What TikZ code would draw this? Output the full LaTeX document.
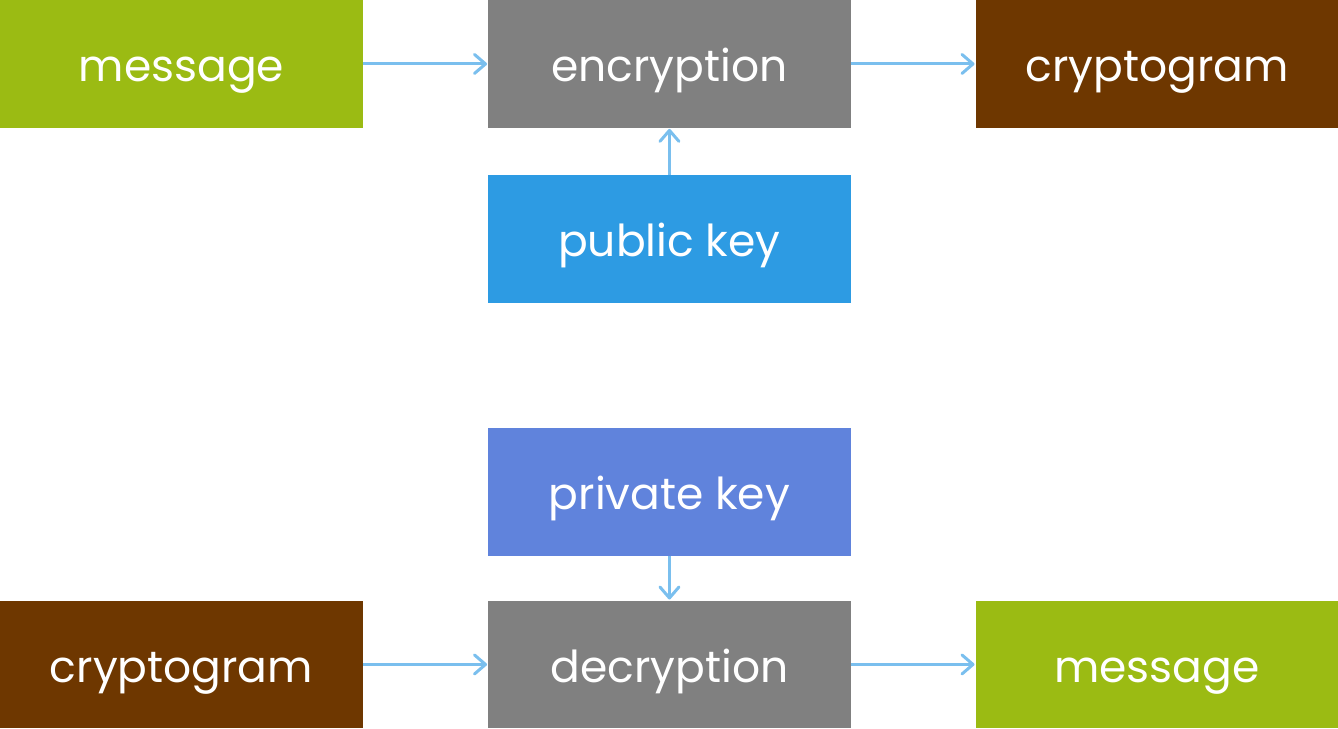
\documentclass[tikz,border=0pt]{standalone}
\usepackage{fontspec}
\setmainfont{Poppins}
\usetikzlibrary{arrows.meta}
\definecolor{cgreen}{HTML}{9BBB13}
\definecolor{cgray}{HTML}{808080}
\definecolor{cbrown}{HTML}{6E3700}
\definecolor{cblue}{HTML}{2D9BE3}
\definecolor{cpurple}{HTML}{6083DC}
\definecolor{carrow}{HTML}{7ABFEE}
\begin{document}
\begin{tikzpicture}[x=1pt,y=-1pt,
  box/.style={fill=#1,draw=none,text=white,minimum width=362.5pt,minimum height=127.5pt,inner sep=0pt,text height=44pt,text depth=8pt,anchor=north west,font=\fontsize{44}{48}\selectfont},
  conn/.style={draw=carrow,line width=3pt,shorten >=1pt,-{Straight Barb[length=11pt,width=19pt,line cap=round,line join=round]}}]
\useasboundingbox (0,0) rectangle (1338,728);
\node[box=cgreen] (m1) at (0,0) {message};
\node[box=cgray] (enc) at (488,0) {encryption};
\node[box=cbrown] (c1) at (975.5,0) {cryptogram};
\node[box=cblue] (pub) at (488,175) {public key};
\node[box=cpurple] (priv) at (488,428) {private key};
\node[box=cbrown] (c2) at (0,600.5) {cryptogram};
\node[box=cgray] (dec) at (488,600.5) {decryption};
\node[box=cgreen] (m2) at (975.5,600.5) {message};
\draw[conn] (m1) -- (enc);
\draw[conn] (enc) -- (c1);
\draw[conn] (pub) -- (enc);
\draw[conn] (priv) -- (dec);
\draw[conn] (c2) -- (dec);
\draw[conn] (dec) -- (m2);
\end{tikzpicture}
\end{document}
